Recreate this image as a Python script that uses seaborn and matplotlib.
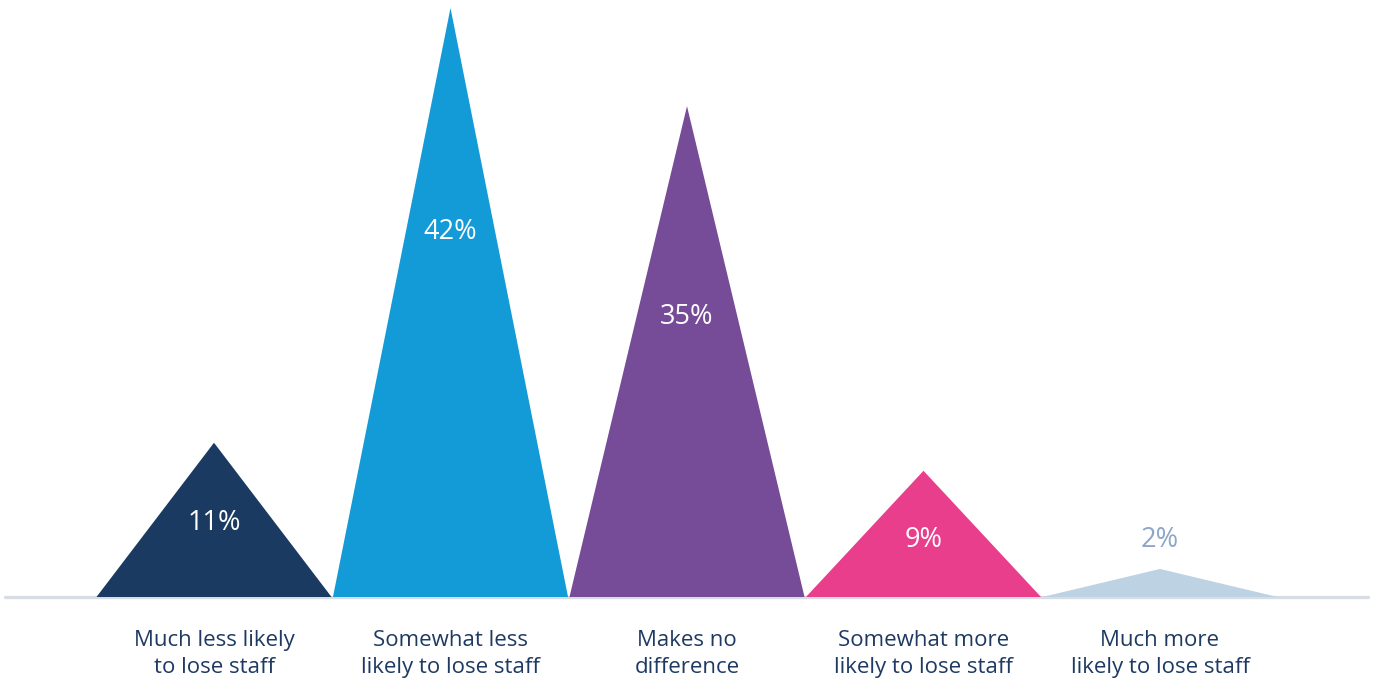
import matplotlib
matplotlib.use("Agg")
import matplotlib.pyplot as plt
import seaborn as sns

# Survey responses
categories = [
    "Much less likely\nto lose staff",
    "Somewhat less\nlikely to lose staff",
    "Makes no\ndifference",
    "Somewhat more\nlikely to lose staff",
    "Much more\nlikely to lose staff",
]
values = [11, 42, 35, 9, 2]
value_labels = ["11%", "42%", "35%", "9%", "2%"]

# Styling
colors = ["#1b3a61", "#139bd8", "#764b98", "#e83e8c", "#bdd2e3"]
label_colors = ["white", "white", "white", "white", "#8ea6c9"]
label_heights = [5.3, 26.0, 20.0, 4.1, 4.1]
half_width = 0.497

sns.set_theme(style="white")
plt.rcParams["font.family"] = ["Open Sans", "DejaVu Sans"]

fig = plt.figure(figsize=(13.75, 6.81), dpi=100)
ax = fig.add_axes([5 / 1375, (681 - 597) / 681, 1363 / 1375, 589 / 681])

for i, (v, c) in enumerate(zip(values, colors)):
    ax.fill([i - half_width, i, i + half_width], [0, v, 0], color=c, lw=0, zorder=2)

for i, (txt, c, h) in enumerate(zip(value_labels, label_colors, label_heights)):
    ax.text(i, h, txt, ha="center", va="center", color=c, fontsize=19.5,
            fontweight="medium", zorder=3)

ax.axhline(0, color="#d8dce3", lw=2.4, zorder=1, clip_on=False)

ax.set_xlim((5 - 214) / 236.5, (1368 - 214) / 236.5)
ax.set_ylim(0, 42)
ax.set_xticks(range(len(categories)))
ax.set_xticklabels(categories, color="#1e3a62", fontsize=16, linespacing=1.33)
ax.tick_params(axis="x", length=0, pad=24)
ax.set_yticks([])
sns.despine(ax=ax, left=True, bottom=True)

fig.savefig("out.png", dpi=100, facecolor="white")
